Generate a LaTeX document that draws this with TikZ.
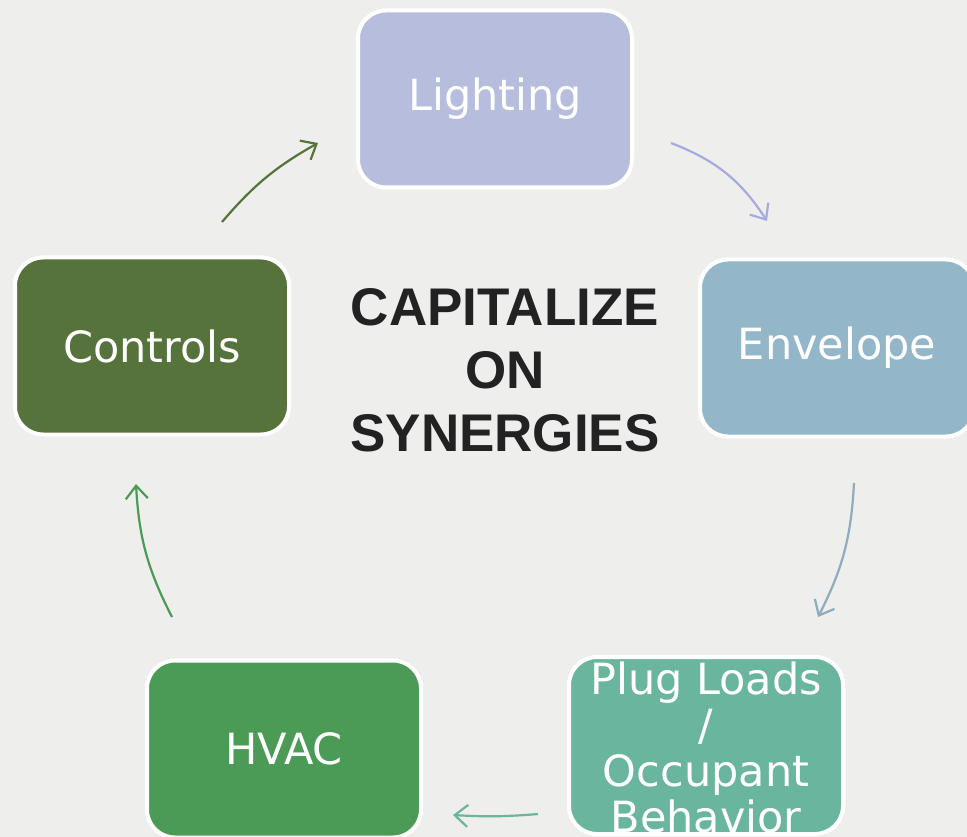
\documentclass[tikz,border=0pt]{standalone}
\usepackage{fontspec}
\setmainfont{DejaVu Sans}
\newfontfamily\headfont{Liberation Sans}
\usetikzlibrary{arrows.meta}

\definecolor{paper}{HTML}{EEEEEC}
\definecolor{lightingc}{HTML}{B7BDDD}
\definecolor{envelopec}{HTML}{94B6C9}
\definecolor{plugc}{HTML}{6AB59D}
\definecolor{hvacc}{HTML}{4B9A55}
\definecolor{controlsc}{HTML}{55733A}
\definecolor{ink}{HTML}{222222}

\begin{document}
\begin{tikzpicture}[x=1pt,y=-1pt,
  card/.style={draw=white, line width=4pt, rounded corners=28pt,
    minimum width=274pt, minimum height=177pt, inner sep=0pt,
    text=white, font=\fontsize{43}{46}\selectfont, align=center},
  cardtext/.style={text=white, inner sep=0pt, align=center,
    font=\fontsize{43}{46}\selectfont},
  flow/.style={line width=2.2pt, -{Straight Barb[length=13pt,width=22pt]}}
]
\useasboundingbox (0,0) rectangle (967,837);
\clip (0,0) rectangle (967,837);
\fill[paper] (0,0) rectangle (967,837);

% the five cycle stages
\node[card, fill=lightingc] (lighting) at (495,99) {Lighting};
\node[card, fill=envelopec] (envelope) at (837,348) {Envelope};
\node[card, fill=plugc]     (plug)     at (706,745.5) {};
\node[cardtext] (plugtext) at (706,747) {Plug Loads\\/\\Occupant\\Behavior};
\node[card, fill=hvacc]     (hvac)     at (284,749) {HVAC};
\node[card, fill=controlsc] (controls) at (152,346) {Controls};

% centre caption
\node[text=ink, align=center, inner sep=0pt,
      font=\headfont\bfseries\fontsize{53}{63}\selectfont] (title) at (505,370)
  {CAPITALIZE\\ON\\SYNERGIES};

% arrow end points
\coordinate (l1) at (671,143);  \coordinate (e0) at (767,221);
\coordinate (e1) at (854,483);  \coordinate (p0) at (818,617);
\coordinate (p1) at (538,814);  \coordinate (h0) at (453,815);
\coordinate (h1) at (172,617);  \coordinate (c0) at (136,484);
\coordinate (c1) at (222,222);  \coordinate (l0) at (318,143);

% connectors, clockwise
\draw[flow, color=lightingc!90!blue] (l1) to[bend left=18] (e0);
\draw[flow, color=envelopec!95!black] (e1) to[bend left=12] (p0);
\draw[flow, color=plugc] (p1) to[bend left=4] (h0);
\draw[flow, color=hvacc] (h1) to[bend left=12] (c0);
\draw[flow, color=controlsc] (c1) to[bend left=10] (l0);
\end{tikzpicture}
\end{document}
